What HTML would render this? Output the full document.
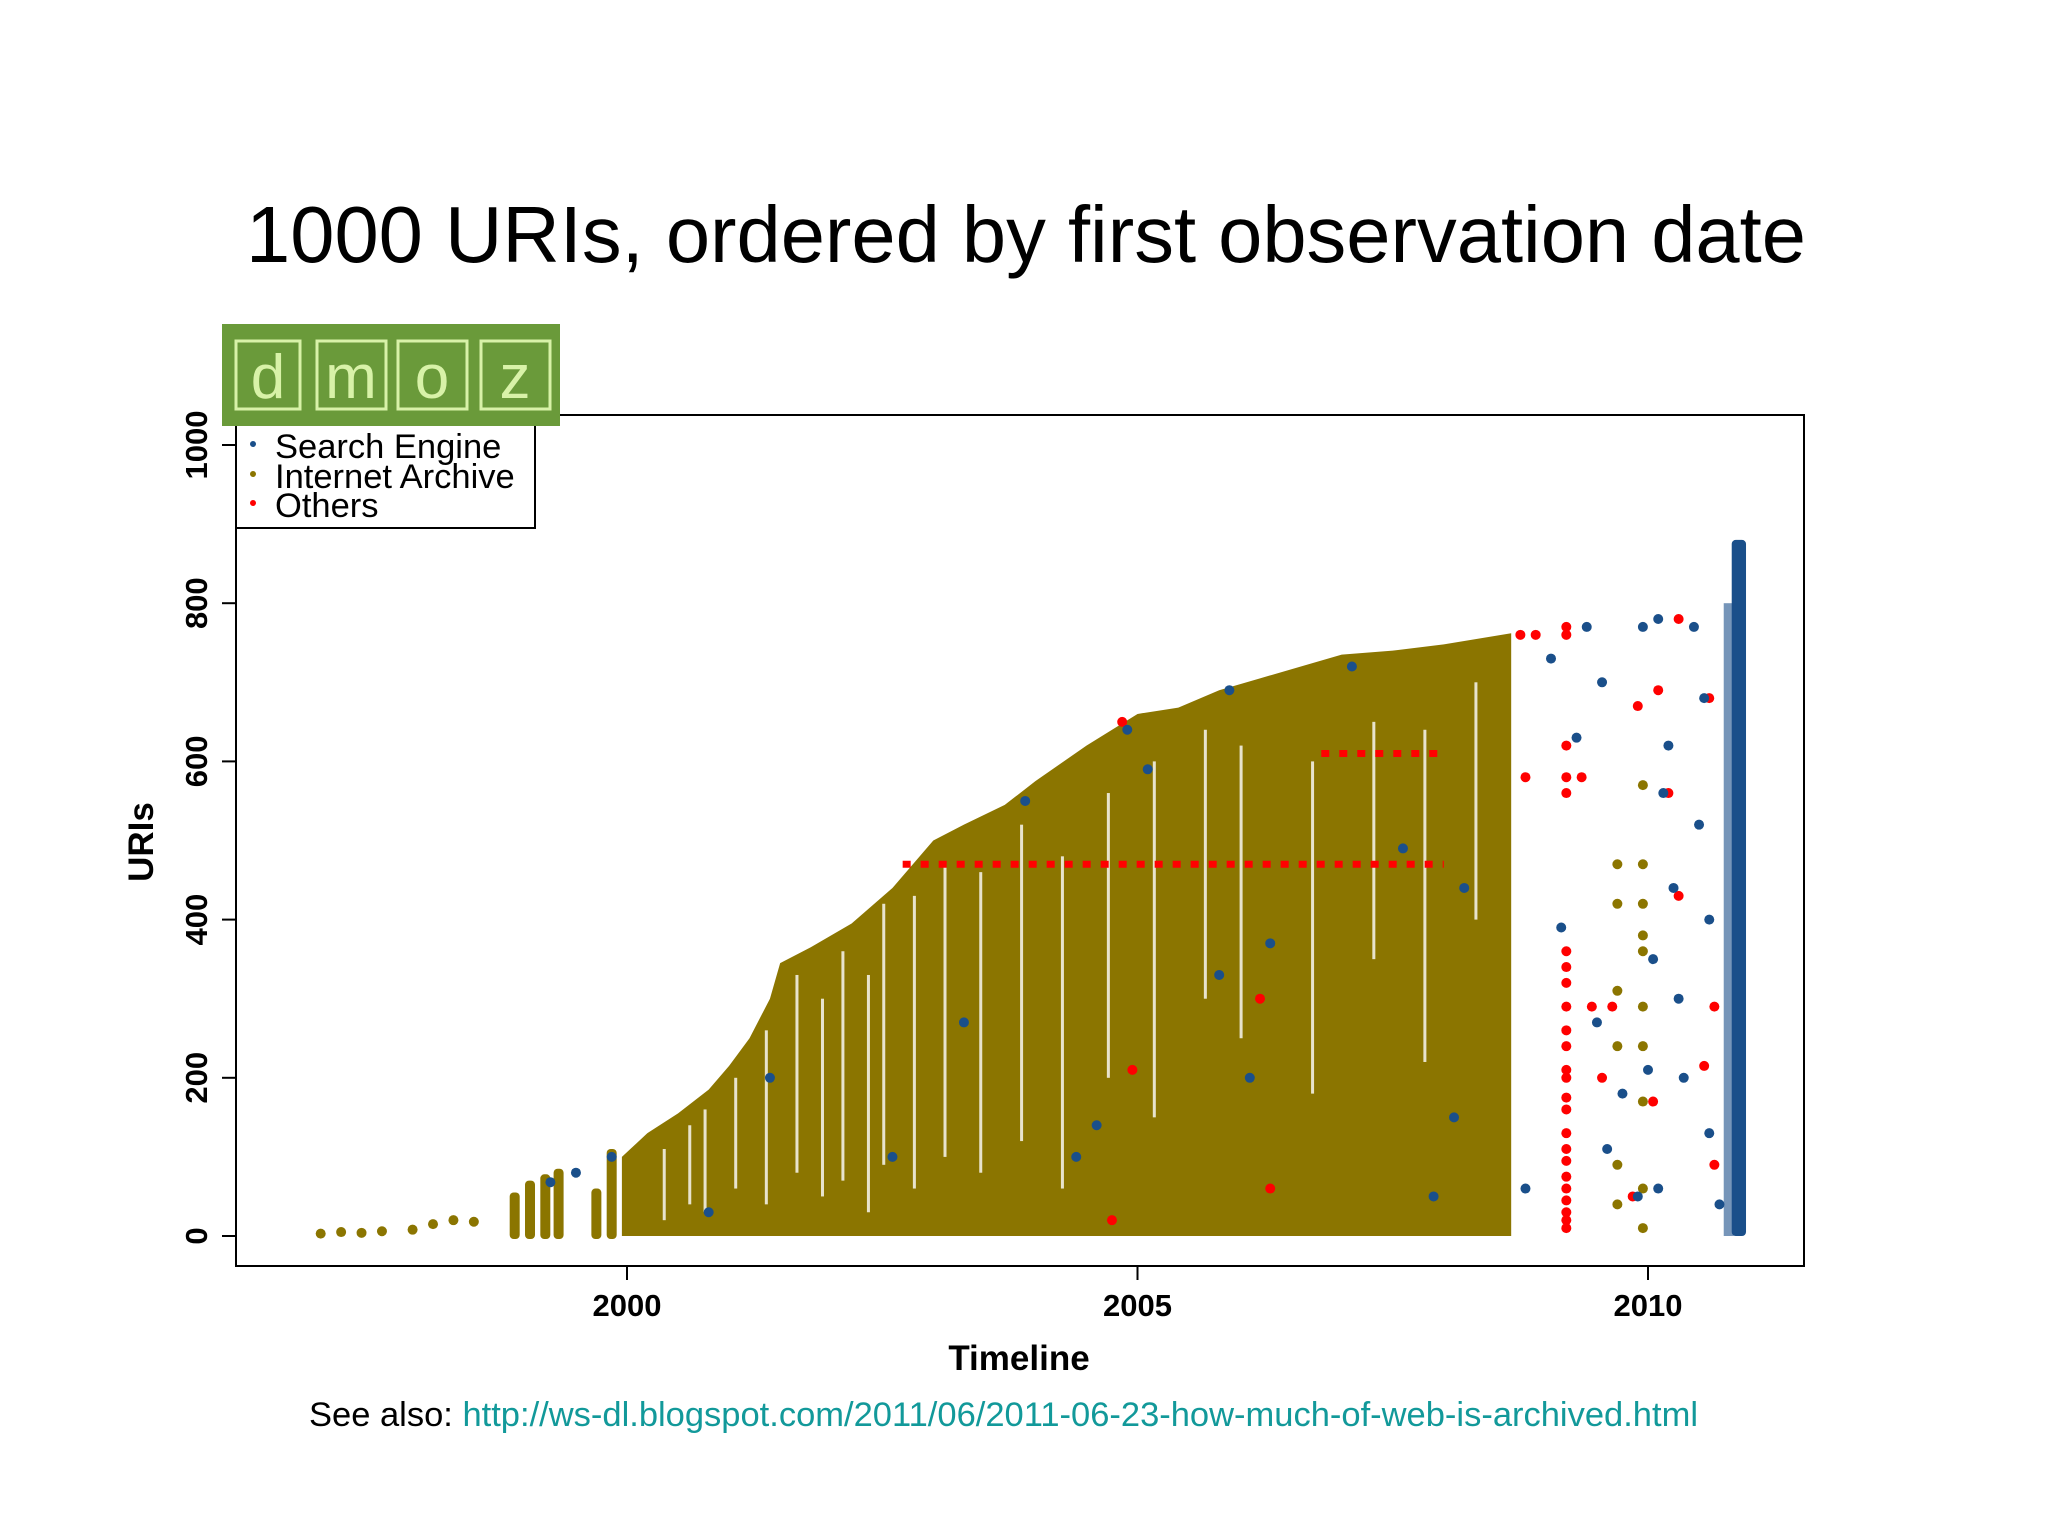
<!DOCTYPE html>
<html><head><meta charset="utf-8"><style>
html,body{margin:0;padding:0;background:#fff;width:2048px;height:1536px;overflow:hidden;font-family:"Liberation Sans",sans-serif}
</style></head><body>
<svg id="chart" width="2048" height="1536" xmlns="http://www.w3.org/2000/svg" style="position:absolute;left:0;top:0">
<text x="1026" y="262" text-anchor="middle" font-family="Liberation Sans" font-size="79.5" fill="#000">1000 URIs, ordered by first observation date</text>
<g id="plot"></g>
<rect x="236" y="415" width="1568" height="851" fill="none" stroke="#000" stroke-width="2"/>
<g>
<rect x="236" y="420" width="299" height="108" fill="#fff" stroke="#000" stroke-width="2"/>
<circle cx="253" cy="444" r="3" fill="#1a4f8a"/>
<text x="275" y="458" font-size="34.5" fill="#000">Search Engine</text>
<circle cx="253" cy="474" r="3" fill="#8b7500"/>
<text x="275" y="488" font-size="34.5" fill="#000">Internet Archive</text>
<circle cx="253" cy="503" r="3" fill="#ff0000"/>
<text x="275" y="517" font-size="34.5" fill="#000">Others</text>
</g>
<g>
<rect x="222" y="324" width="338" height="102" fill="#6a9a3a"/>
<rect x="236" y="341" width="64" height="68" fill="none" stroke="#d8f2a8" stroke-width="3"/>
<rect x="317" y="341" width="69" height="68" fill="none" stroke="#d8f2a8" stroke-width="3"/>
<rect x="398" y="341" width="69" height="68" fill="none" stroke="#d8f2a8" stroke-width="3"/>
<rect x="481" y="341" width="69" height="68" fill="none" stroke="#d8f2a8" stroke-width="3"/>
<text x="268" y="398" text-anchor="middle" font-size="62" fill="#d8f2a8">d</text>
<text x="351" y="398" text-anchor="middle" font-size="62" fill="#d8f2a8">m</text>
<text x="432" y="398" text-anchor="middle" font-size="62" fill="#d8f2a8">o</text>
<text x="515" y="398" text-anchor="middle" font-size="62" fill="#d8f2a8">z</text>
</g>
<g id="axes"></g>
<text x="1019" y="1370" text-anchor="middle" font-size="35" font-weight="bold" fill="#000">Timeline</text>
<text transform="translate(153,842) rotate(-90)" text-anchor="middle" font-size="35" font-weight="bold" fill="#000">URIs</text>
<text x="309" y="1426" font-size="34.5" fill="#000">See also: <tspan fill="#12999a">http://ws-dl.blogspot.com/2011/06/2011-06-23-how-much-of-web-is-archived.html</tspan></text>
</svg>
<script>
const xTicks=[2000,2005,2010];
const yTicks=[0,200,400,600,800,1000];
const envYears=[1999.95,2000.2,2000.5,2000.8,2001.0,2001.2,2001.4,2001.5,2001.8,2002.2,2002.6,2003.0,2003.3,2003.7,2004.0,2004.5,2005.0,2005.4,2005.8,2006.2,2006.6,2007.0,2007.5,2008.0,2008.66];
const envMax=[100,130,155,185,215,250,300,345,365,395,440,500,520,545,575,620,660,668,690,705,720,735,740,748,762];
const barYears=[1998.9,1999.05,1999.2,1999.33,1999.7,1999.85];
const barMax=[55,70,78,85,60,110];
const earlyYears=[1997.0,1997.2,1997.4,1997.6,1997.9,1998.1,1998.3,1998.5];
const earlyVals=[3,5,4,6,8,15,20,18];
const gapYears=[2000.35,2000.6,2000.75,2001.05,2001.35,2001.65,2001.9,2002.1,2002.35,2002.5,2002.8,2003.1,2003.45,2003.85,2004.25,2004.7,2005.15,2005.65,2006.0,2006.7,2007.3,2007.8,2008.3];
const gapLow=[20,40,30,60,40,80,50,70,30,90,60,100,80,120,60,200,150,300,250,180,350,220,400];
const gapHigh=[110,140,160,200,260,330,300,360,330,420,430,470,460,520,480,560,600,640,620,600,650,640,700];
const blueYears=[2008.8,2009.05,2009.15,2009.3,2009.4,2009.5,2009.6,2009.9,2009.95,2010.0,2010.1,2010.1,2010.15,2010.2,2010.25,2010.3,2010.35,2010.45,2010.5,2010.55,2010.6,2010.7,2010.6,2010.05,2009.75,2009.55,2003.3,2004.4,2005.1,2006.3,2007.6,2008.1,2001.4,2002.6,2004.6,2005.8,2006.1,2007.9,2008.2,1999.25,1999.5,1999.85,2000.8,2003.9,2004.9,2005.9,2007.1];
const blueVals=[60,730,390,630,770,270,110,50,770,210,780,60,560,620,440,300,200,770,520,680,130,40,400,350,180,700,270,100,590,370,490,150,200,100,140,330,200,50,440,68,80,100,30,550,640,690,720];
const redYears=[2009.2,2009.2,2009.2,2009.2,2009.2,2009.2,2009.2,2009.2,2009.2,2009.2,2009.2,2009.2,2009.2,2009.2,2009.2,2009.2,2009.2,2009.2,2009.2,2009.2,2009.2,2009.2,2009.2,2009.2,2008.75,2008.9,2009.45,2009.55,2009.65,2009.85,2010.05,2010.1,2010.2,2010.3,2010.55,2010.6,2010.65,2010.65,2010.3,2004.85,2004.95,2004.75,2006.2,2006.3,2008.8,2009.9,2009.35];
const redVals=[10,20,30,45,60,75,95,110,130,160,175,200,210,240,260,290,320,340,360,560,580,620,760,770,760,760,290,200,290,50,170,690,560,430,215,680,290,90,780,650,210,20,300,60,580,670,580];
const redLineVals=[470,610];
const redLineStart=[2002.7,2006.8];
const redLineEnd=[2008.0,2008.0];
const oliveYears=[2009.7,2009.7,2009.7,2009.7,2009.7,2009.7,2009.95,2009.95,2009.95,2009.95,2009.95,2009.95,2009.95,2009.95,2009.95,2009.95];
const oliveVals=[40,90,240,310,420,470,10,60,170,240,290,360,380,420,470,570];
const blueColumnYears=[2010.82,2010.96];
const blueColumnMax=880;
const blueFringeMax=800;

const NS="http://www.w3.org/2000/svg";
const xs=y=>627+(y-2000)*102.1;
const ys=v=>1236-v*0.791;
const plot=document.getElementById('plot');
const axes=document.getElementById('axes');
function mk(tag,attrs,parent){const e=document.createElementNS(NS,tag);for(const k in attrs)e.setAttribute(k,attrs[k]);parent.appendChild(e);return e;}
const OL="#8b7500",BL="#1a4f8a",RD="#ff0000";

let d="M"+xs(envYears[0])+","+ys(0);
envYears.forEach((y,i)=>{d+=" L"+xs(y)+","+ys(envMax[i]);});
d+=" L"+xs(envYears[envYears.length-1])+","+ys(0)+" Z";
const area=mk('path',{d:d,fill:OL},plot);


gapYears.forEach((y,i)=>{
  const g=mk('rect',{x:xs(y),y:ys(gapHigh[i]),width:3,height:ys(gapLow[i])-ys(gapHigh[i]),fill:"#fff",opacity:0.8},plot);
  
  
});
barYears.forEach((y,i)=>{
  const b=mk('rect',{x:xs(y)-5,y:ys(barMax[i]),width:10,height:ys(0)-ys(barMax[i])+3,fill:OL,rx:4},plot);
  
  
});
earlyYears.forEach((y,i)=>{
  const c=mk('circle',{cx:xs(y),cy:ys(earlyVals[i]),r:5,fill:OL},plot);
  
  
});
oliveYears.forEach((y,i)=>{
  const c=mk('circle',{cx:xs(y),cy:ys(oliveVals[i]),r:5,fill:OL},plot);
  
  
});
redLineVals.forEach((v,i)=>{
  const l=mk('line',{x1:xs(redLineStart[i]),x2:xs(redLineEnd[i]),y1:ys(v),y2:ys(v),stroke:RD,"stroke-width":7,"stroke-dasharray":"8 10"},plot);
  
  
});
const col=mk('rect',{x:xs(blueColumnYears[0]),y:ys(blueColumnMax),width:xs(blueColumnYears[1])-xs(blueColumnYears[0]),height:ys(0)-ys(blueColumnMax),fill:BL,rx:4},plot);


const fr=mk('rect',{x:xs(blueColumnYears[0])-8,y:ys(blueFringeMax),width:10,height:ys(0)-ys(blueFringeMax),fill:BL,opacity:0.6},plot);


redYears.forEach((y,i)=>{
  const c=mk('circle',{cx:xs(y),cy:ys(redVals[i]),r:5,fill:RD},plot);
  
  
});
blueYears.forEach((y,i)=>{
  const c=mk('circle',{cx:xs(y),cy:ys(blueVals[i]),r:5,fill:BL},plot);
  
  
});
mk('line',{x1:xs(2000),x2:xs(2010),y1:1266,y2:1266,stroke:"#000","stroke-width":2},axes);
xTicks.forEach(t=>{
  const l=mk('line',{x1:xs(t),x2:xs(t),y1:1266,y2:1280,stroke:"#000","stroke-width":2},axes);
  
  
  const tx=mk('text',{x:xs(t),y:1316,"text-anchor":"middle","font-size":31,"font-weight":"bold",fill:"#000"},axes);
  tx.textContent=t;
  
  
});
yTicks.forEach(t=>{
  const l=mk('line',{x1:222,x2:236,y1:ys(t),y2:ys(t),stroke:"#000","stroke-width":2},axes);
  
  
  const tx=mk('text',{transform:"translate(207,"+ys(t)+") rotate(-90)","text-anchor":"middle","font-size":31,"font-weight":"bold",fill:"#000"},axes);
  tx.textContent=t;
  
  
});
</script>
</body></html>
